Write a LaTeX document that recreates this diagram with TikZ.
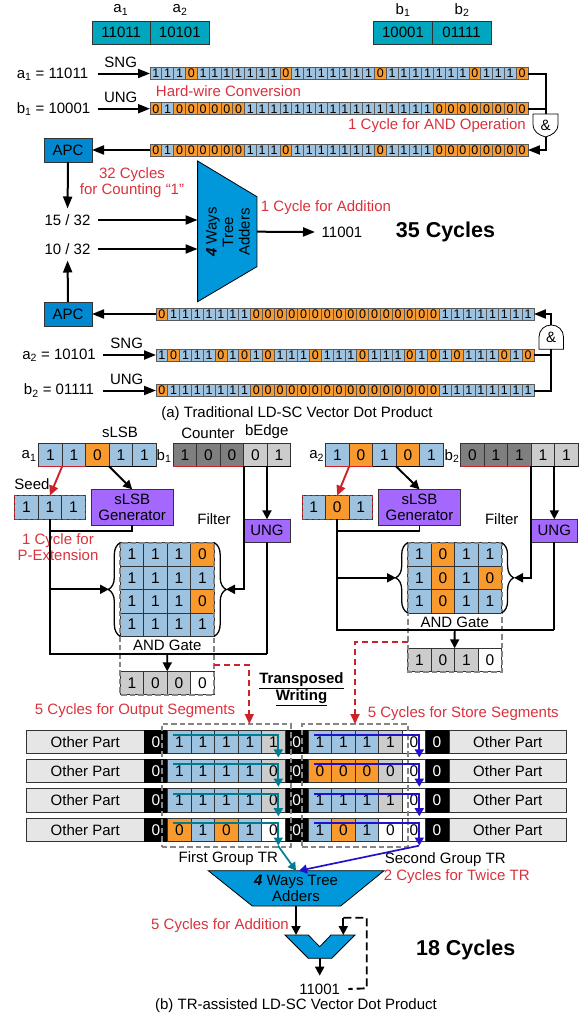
\documentclass[tikz,border=0pt]{standalone}
\usepackage{fontspec}
\setmainfont{Liberation Sans}
\usetikzlibrary{arrows.meta,decorations.pathreplacing,fit}

\definecolor{cblue}{HTML}{9DC3E0}
\definecolor{corange}{HTML}{F89A2E}
\definecolor{cgray}{HTML}{CCCCCC}
\definecolor{cdark}{HTML}{7F7F7F}
\definecolor{cother}{HTML}{E6E6E6}
\definecolor{credtxt}{HTML}{D9323C}
\definecolor{credline}{HTML}{CC2229}
\definecolor{capc}{HTML}{0088D0}
\definecolor{cadder}{HTML}{0098DB}
\definecolor{ctop}{HTML}{00A6BD}
\definecolor{cpurple}{HTML}{A568FF}
\definecolor{ctealarrow}{HTML}{007C91}
\definecolor{cbluearrow}{HTML}{2211CC}
\definecolor{cdash}{HTML}{858585}

\tikzset{
  bitcell/.style={draw=black!65, line width=0.7pt, minimum width=11.81pt, minimum height=12pt, font=\fontsize{12.5}{12}\selectfont},
  bit0/.style={bitcell, fill=corange},
  bit1/.style={bitcell, fill=cblue},
  cell/.style={draw=black!80, line width=0.8pt, minimum width=23.47pt, minimum height=23.4pt, font=\fontsize{15.5}{16}\selectfont},
  cb/.style={fill=cblue},
  co/.style={fill=corange},
  cg/.style={fill=cgray},
  cd/.style={fill=cdark},
  cw/.style={fill=white},
  ck/.style={fill=black, text=white, draw=black},
  redlbl/.style={text=credtxt},
  topbox/.style={draw=black!80, line width=0.8pt, fill=ctop, minimum width=58.6pt, minimum height=23pt},
  apc/.style={draw=black!80, line width=0.8pt, fill=capc, minimum width=48pt, minimum height=24pt},
  gen/.style={draw=black!80, line width=0.8pt, fill=cpurple, align=center},
  adder/.style={draw=black, line width=0.8pt, fill=cadder},
  other/.style={draw=black!80, line width=0.8pt, fill=cother, minimum width=117.3pt, minimum height=23.4pt},
  wire/.style={draw=black, line width=2pt, -{Triangle[length=12pt,width=9pt]}},
  plain/.style={draw=black, line width=2pt},
  thin wire/.style={draw=black, line width=1.9pt, -{Triangle[length=9pt,width=9pt]}},
  thin plain/.style={draw=black, line width=1.9pt},
  groupbox/.style={draw=cdash, line width=1.9pt, dash pattern=on 5.5pt off 3pt},
  seedbox/.style={draw=credline, line width=1pt, dash pattern=on 4pt off 2pt, inner sep=0pt},
  reddash/.style={draw=credline, line width=1.7pt, dash pattern=on 6pt off 4pt},
  redarrow/.style={draw=credline, line width=1.9pt, -{Triangle[length=10pt,width=9pt]}},
  tealarrow/.style={draw=ctealarrow, line width=1.7pt, -{Triangle[length=8pt,width=9pt]}},
  bluearrow/.style={draw=cbluearrow, line width=1.7pt, -{Triangle[length=8pt,width=9pt]}},
  bracel/.style={draw=black, line width=1.3pt, decorate, decoration={brace,amplitude=12pt}},
}

% one stream of 32 bits, left end at x
\newcommand{\bitrow}[4]{
  \foreach \v [count=\i] in {#4} {
    \node[bit\v] (#1-\i) at ({#2+(\i-0.5)*11.81},#3) {\v};
  }
}
% a row of big cells, left end at x
\newcommand{\cellrow}[4]{
  \foreach \s/\v [count=\i] in {#4} {
    \node[cell,\s] (#1-\i) at ({#2+(\i-0.5)*23.47},#3) {\v};
  }
}

\begin{document}
\begin{tikzpicture}[x=1pt, y=-1pt, every node/.style={font=\fontsize{15}{16}\selectfont, inner sep=0pt, outer sep=0pt}]
  \useasboundingbox (0,0) rectangle (585,1017);

  % (a) top registers
  \node[topbox] (aone) at (121.2,32.5) {11011};
  \node[topbox] (atwo) at (179.8,32.5) {10101};
  \node[topbox] (bone) at (403,32.5) {10001};
  \node[topbox] (btwo) at (461.6,32.5) {01111};
  \node at (120.8,10) (laone) {a\textsubscript{1}};
  \node at (180,10) (latwo) {a\textsubscript{2}};
  \node at (403,10) (lbone) {b\textsubscript{1}};
  \node at (462,10) (lbtwo) {b\textsubscript{2}};

  % (a) first pair
  \bitrow{sa}{150}{73.5}{1,1,1,0,1,1,1,1,1,1,1,0,1,1,1,1,1,1,1,0,1,1,1,1,1,1,1,0,1,1,1,0}
  \bitrow{sb}{150}{108.7}{0,1,0,0,0,0,0,0,1,1,1,1,1,1,1,1,1,1,1,1,1,1,1,1,0,0,0,0,0,0,0,0}
  \bitrow{sc}{150}{150}{0,1,0,0,0,0,0,0,1,1,1,0,1,1,1,1,1,1,1,0,1,1,1,1,0,0,0,0,0,0,0,0}
  \node (la) at (52.5,74) {a\textsubscript{1} = 11011};
  \node (lb) at (53.5,109) {b\textsubscript{1} = 10001};
  \node (sngone) at (120.7,62) {SNG};
  \node (ungone) at (120.7,97) {UNG};
  \node[redlbl] (hardwire) at (228.5,91) {Hard-wire Conversion};
  \node[redlbl] (andcycle) at (437,126) {1 Cycle for AND Operation};
  \draw[wire] (97.5,73.5) coordinate (ina) -- (sa-1.west);
  \draw[wire] (97.5,108.7) coordinate (inb) -- (sb-1.west);
  \draw[adder, fill=white] (533,114) -- (558,114) -- (558,124) .. controls (558,132) and (552,135) .. (545.5,137) .. controls (539,135) and (533,132) .. (533,124) -- cycle;
  \node[minimum width=25pt, minimum height=23pt] (gatea) at (545.5,125.5) {\&};
  \draw[plain] (sa-32.east) -| (gatea.north);
  \draw[plain] (sb-32.east) -- (sb-32.east -| gatea.north);
  \draw[wire] (gatea.south) |- (sc-32.east);
  \node[apc] (apca) at (68,150) {APC};
  \draw[wire] (sc-1.west) -- (apca.east);

  % (a) tree adders
  \draw[adder] (197.6,161) -- (256.9,196.7) -- (256.9,266.7) -- (197.6,301.7) -- cycle;
  \node[rotate=90, align=center, font=\fontsize{15}{16.5}\selectfont] (treea) at (228,232) {\textbf{\textit{4}} Ways\\Tree\\Adders};
  \node (frone) at (67.5,220) {15 / 32};
  \node (frtwo) at (67.5,249) {10 / 32};
  \coordinate (adinone) at (197.6,220);
  \coordinate (adintwo) at (197.6,249);
  \coordinate (adout) at (256.9,231.7);
  \draw[wire] (97.5,220) coordinate (frtaila) -- (adinone);
  \draw[wire] (97.5,249) coordinate (frtailb) -- (adintwo);
  \node[redlbl, align=center] (countlbl) at (132,183) {32 Cycles\\for Counting “1”};
  \node[redlbl] (addlbl) at (326,208) {1 Cycle for Addition};
  \node (resa) at (342,232) {11001};
  \draw[wire] (adout) -- (resa.west -| 315,0);
  \node[font=\bfseries\fontsize{21.5}{22}\selectfont] (totala) at (445.5,232) {35 Cycles};
  \draw[wire, shorten >=6pt] (apca.south) -- (frone.north);

  % (a) second pair
  \bitrow{sd}{156}{314}{0,1,1,1,1,1,1,1,0,0,0,0,0,0,0,0,0,0,0,0,0,0,0,0,1,1,1,1,1,1,1,1}
  \bitrow{se}{156}{355}{1,0,1,1,1,0,1,0,1,0,1,1,1,0,1,1,1,0,1,1,1,0,1,0,1,0,1,1,1,0,1,0}
  \bitrow{sf}{156}{390.5}{0,1,1,1,1,1,1,1,0,0,0,0,0,0,0,0,0,0,0,0,0,0,0,0,1,1,1,1,1,1,1,1}
  \node[apc] (apcb) at (68,314) {APC};
  \draw[wire, shorten >=6pt] (apcb.north) -- (frtwo.south);
  \draw[wire] (sd-1.west) -- (apcb.east);
  \node (ltwoa) at (59,355) {a\textsubscript{2} = 10101};
  \node (ltwob) at (59,390.7) {b\textsubscript{2} = 01111};
  \node (sngtwo) at (126.7,343) {SNG};
  \node (ungtwo) at (126.7,379) {UNG};
  \draw[wire] (103,355) coordinate (ine) -- (se-1.west);
  \draw[wire] (103,390.5) coordinate (inf) -- (sf-1.west);
  \draw[adder, fill=white] (539,349.3) -- (563.5,349.3) -- (563.5,337) .. controls (563.5,330) and (558,325) .. (551.2,325) .. controls (544.5,325) and (539,330) .. (539,337) -- cycle;
  \node[minimum width=24.5pt, minimum height=24.3pt] (gateb) at (551.2,337.2) {\&};
  \draw[wire] (gateb.north) |- (sd-32.east);
  \draw[plain] (se-32.east) -- (se-32.east -| gateb.south);
  \draw[plain] (sf-32.east) -| (gateb.south);
  \node (capa) at (297,414) {(a) Traditional LD-SC Vector Dot Product};

  % (b) left input
  \cellrow{ra}{38.7}{454.7}{cb/1,cb/1,co/0,cb/1,cb/1}
  \cellrow{rb}{173.3}{454.7}{cd/1,cd/0,cd/0,cg/0,cg/1}
  \draw[draw=credline, line width=1pt] (ra-1.south west) -- (ra-2.south east);
  \draw[line width=1.2pt] (ra-3.south west) -- (ra-5.south east);
  \draw[draw=credline, line width=1pt] (rb-1.south west) -- (rb-3.south east);
  \draw[line width=1.2pt] (rb-4.south west) -- (rb-5.south east);
  \node (lra) at (29,456) {a\textsubscript{1}};
  \node (lrb) at (164,456) {b\textsubscript{1}};
  \node (lslsb) at (120,432) {sLSB};
  \node (lcnt) at (208,433) {Counter};
  \node (ledge) at (266.7,432) {bEdge};
  \node (lseed) at (32,484) {Seed};
  \cellrow{sda}{14.7}{507.3}{cb/1,cb/1,cb/1}
  \node[seedbox, fit=(sda-1)(sda-3)] (sdbox) {};
  \node[gen, minimum width=82.3pt, minimum height=35.7pt] (gena) at (132.2,507.2) {sLSB\\Generator};
  \node (lfa) at (214,519) {Filter};
  \node[gen, minimum width=47.7pt, minimum height=23pt] (unga) at (267,530.8) {UNG};
  \node[redlbl, align=center] (pext) at (58,547) {1 Cycle for\\P-Extension};
  \cellrow{ma1}{120.3}{554.4}{cb/1,cb/1,cb/1,co/0}
  \cellrow{ma2}{120.3}{577.8}{cb/1,cb/1,cb/1,cb/1}
  \cellrow{ma3}{120.3}{601.2}{cb/1,cb/1,cb/1,co/0}
  \cellrow{ma4}{120.3}{624.6}{cb/1,cb/1,cb/1,cb/1}
  \node (anda) at (167.3,645) {AND Gate};
  \cellrow{oa}{120.3}{683}{cg/1,cg/0,cg/0,cw/0}
  \draw[groupbox] (ma1-1.north west) rectangle (oa-4.south east);
  \draw[bracel] (ma4-1.south west) -- (ma1-1.north west);
  \draw[bracel] (ma1-4.north east) -- (ma4-4.south east);
  \coordinate (tipal) at (109,589.3);
  \coordinate (tipar) at (226,589.3);
  \coordinate (joina) at (167.3,654);
  \draw[redarrow] (ra-1.south east) -- (sda-2.north);
  \draw[thin wire] (ra-3.south east) -- (gena.north);
  \draw[thin plain] (sda-2.south) |- (unga.south |- joina);
  \draw[thin plain] (unga.south |- joina) -- (unga.south);
  \draw[thin plain] (gena.south) |- (sda-2.south |- 0,531);
  \draw[thin wire] (sda-2.south |- tipal) -- (tipal);
  \draw[thin wire] (rb-3.south east) |- (tipar);
  \draw[thin wire] (rb-4.south east -| unga.north) -- (unga.north);
  \draw[thin wire] (joina) -- (oa-3.north west);

  % (b) right input
  \cellrow{rc}{325.7}{454.7}{cb/1,co/0,cb/1,co/0,cb/1}
  \cellrow{rd}{460.7}{454.7}{cd/0,cd/1,cd/1,cg/1,cg/1}
  \draw[draw=credline, line width=1pt] (rc-1.south west) -- (rc-2.south east);
  \draw[line width=1.2pt] (rc-3.south west) -- (rc-5.south east);
  \draw[draw=credline, line width=1pt] (rd-1.south west) -- (rd-3.south east);
  \draw[line width=1.2pt] (rd-4.south west) -- (rd-5.south east);
  \node (lrc) at (316.7,456) {a\textsubscript{2}};
  \node (lrd) at (452,456) {b\textsubscript{2}};
  \cellrow{sdb}{302}{507.3}{cb/1,co/0,cb/1}
  \node[seedbox, fit=(sdb-1)(sdb-3)] (sdboxb) {};
  \node[gen, minimum width=82.3pt, minimum height=35.7pt] (genb) at (419.5,507.2) {sLSB\\Generator};
  \node (lfb) at (501.7,519) {Filter};
  \node[gen, minimum width=47pt, minimum height=23pt] (ungb) at (554.3,530.8) {UNG};
  \cellrow{mb1}{407.7}{554.4}{cb/1,co/0,cb/1,cb/1}
  \cellrow{mb2}{407.7}{577.8}{cb/1,co/0,cb/1,co/0}
  \cellrow{mb3}{407.7}{601.2}{cb/1,co/0,cb/1,cb/1}
  \node (andb) at (454.7,622) {AND Gate};
  \cellrow{ob}{407.7}{660}{cg/1,cg/0,cg/1,cw/0}
  \draw[groupbox] (mb1-1.north west) rectangle (ob-4.south east);
  \draw[bracel] (mb3-1.south west) -- (mb1-1.north west);
  \draw[bracel] (mb1-4.north east) -- (mb3-4.south east);
  \coordinate (tipbl) at (396,577.8);
  \coordinate (tipbr) at (514,577.8);
  \coordinate (joinb) at (454.7,630.3);
  \draw[redarrow] (rc-1.south east) -- (sdb-2.north);
  \draw[thin wire] (rc-3.south east) -- (genb.north);
  \draw[thin plain] (sdb-2.south) |- (ungb.south |- joinb);
  \draw[thin plain] (ungb.south |- joinb) -- (ungb.south);
  \draw[thin plain] (genb.south) |- (sdb-2.south |- 0,531);
  \draw[thin wire] (sdb-2.south |- tipbl) -- (tipbl);
  \draw[thin wire] (rd-3.south east) |- (tipbr);
  \draw[thin wire] (rd-4.south east -| ungb.north) -- (ungb.north);
  \draw[thin wire] (joinb) -- (ob-3.north west);

  % (b) memory rows
  \foreach \r/\y in {1/741.7,2/771,3/800.5,4/829.8} {
    \node[other] (opl\r) at (85.3,\y) {Other Part};
    \node[cell,ck] (kla\r) at (155.9,\y) {0};
    \node[cell,ck] (klb\r) at (296.7,\y) {0};
    \node[cell,ck] (klc\r) at (437,\y) {0};
    \node[other] (opr\r) at (507.8,\y) {Other Part};
  }
  \cellrow{gl1}{167.7}{741.7}{cb/1,cb/1,cb/1,cb/1,cg/1}
  \cellrow{gl2}{167.7}{771}{cb/1,cb/1,cb/1,cb/1,cg/0}
  \cellrow{gl3}{167.7}{800.5}{cb/1,cb/1,cb/1,cb/1,cg/0}
  \cellrow{gl4}{167.7}{829.8}{co/0,cb/1,co/0,cb/1,cw/0}
  \cellrow{gr1}{308.3}{741.7}{cb/1,cb/1,cb/1,cg/1,cw/0}
  \cellrow{gr2}{308.3}{771}{co/0,co/0,co/0,cg/0,cw/0}
  \cellrow{gr3}{308.3}{800.5}{cb/1,cb/1,cb/1,cg/1,cw/0}
  \cellrow{gr4}{308.3}{829.8}{cb/1,co/0,cb/1,cw/0,cw/0}
  \node[groupbox, fit={(161.7,724)(290.7,846.7)}] (grpl) {};
  \node[groupbox, fit={(302,724)(407.7,846.7)}] (grpr) {};
  \foreach \r in {1,...,4} {
    \draw[tealarrow] ([shift={(5.6,-6.7)}]gl\r-1.west) -| ([shift={(5,15.7)}]gl\r-5.center);
    \draw[bluearrow] ([shift={(5.7,-6.7)}]gr\r-1.west) -| ([shift={(5.4,15.7)}]gr\r-5.center);
  }
  \node (ttla) at (301.5,681) {\textbf{\underline{Transposed}}};
  \node (ttlb) at (301.5,698) {\textbf{\underline{Writing}}};
  \node[redlbl] (outlbl) at (135,711) {5 Cycles for Output Segments};
  \node[redlbl] (storelbl) at (463.3,714) {5 Cycles for Store Segments};
  \draw[reddash] (oa-4.north east |- 0,665) -| (249.3,712);
  \draw[redarrow, line width=1.7pt] (249.3,712) -- (grpl.north -| 249.3,0);
  \draw[reddash] (ob-1.north west |- 0,641.7) -| (355,712);
  \draw[redarrow, line width=1.7pt] (355,712) -- (grpr.north -| 355,0);

  % (b) adders
  \draw[adder] (208.3,870.7) -- (384,870.7) -- (340.7,906) -- (252.3,906) -- cycle;
  \node[align=center, font=\fontsize{15}{16.7}\selectfont] (treeb) at (296,888.5) {\textbf{\textit{4}} Ways Tree\\Adders};
  \coordinate (adtop) at (296,870.7);
  \coordinate (adbot) at (296,906);
  \draw[tealarrow] (278,845.7) coordinate (tealtail) -- (adtop);
  \draw[bluearrow] (419,845.7) coordinate (bluetail) -- (299,870.7);
  \node (fgt) at (228.3,859) {First Group TR};
  \node (sgt) at (445.3,860) {Second Group TR};
  \node[redlbl] (twice) at (456.7,877) {2 Cycles for Twice TR};
  \node[redlbl] (addb) at (220,926) {5 Cycles for Addition};
  \draw[adder] (285,935) -- (308.3,935) -- (319.7,946.7) -- (331,935) -- (355,935) -- (331.7,958.3) -- (308.3,958.3) -- cycle;
  \coordinate (smalla) at (296,935);
  \coordinate (smallb) at (343.3,935);
  \coordinate (smallo) at (319.7,958.3);
  \node (resb) at (319.7,989) {11001};
  \draw[thin wire] (adbot) -- (smalla);
  \draw[thin wire] (smallo) -- (319.7,975.7) coordinate (resarrow);
  \coordinate (fbtop) at (343.3,917.7);
  \draw[thin wire] (fbtop) -- (smallb);
  \draw[thin plain, dash pattern=on 8pt off 4pt] (fbtop) -- (366.7,917.7) -- (366.7,988.3) -- (resb.east -| 348.3,0);
  \node[font=\bfseries\fontsize{21.5}{22}\selectfont] (totalb) at (465.7,950) {18 Cycles};
  \node (capb) at (296,1006) {(b) TR-assisted LD-SC Vector Dot Product};
\end{tikzpicture}
\end{document}
